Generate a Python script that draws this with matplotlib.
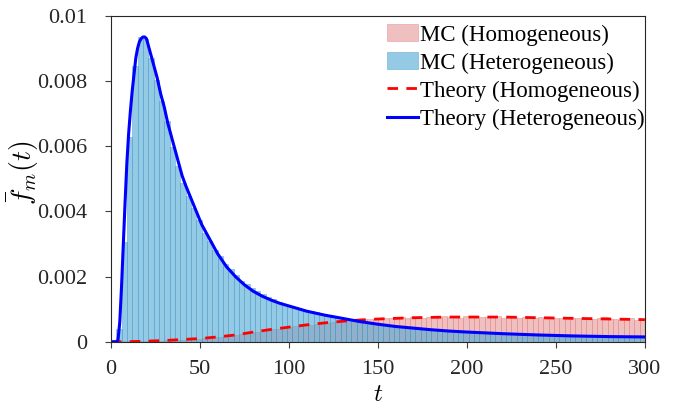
import matplotlib
matplotlib.use('Agg')
import matplotlib.pyplot as plt
import numpy as np

# histogram bins (width 3, 0..300)
bin_width = 3
bin_left = list(range(0, 300, 3))

# MC (Homogeneous) bin heights
mc_homog = [0.00001, 0.00001, 0.00001, 0.00002, 0.00002, 0.00002,
            0.00003, 0.00003, 0.00004, 0.00004, 0.00005,
            0.00006, 0.00006, 0.00007, 0.00008, 0.00009,
            0.00010, 0.00012, 0.00013, 0.00015, 0.00016,
            0.00018, 0.00020, 0.00022, 0.00024, 0.00026,
            0.00029, 0.00031, 0.00033, 0.00036, 0.00038,
            0.00040, 0.00043, 0.00045, 0.00047, 0.00049,
            0.00051, 0.00053, 0.00055, 0.00057, 0.00059,
            0.00061, 0.00062, 0.00064, 0.00065, 0.00067,
            0.00068, 0.00069, 0.00071, 0.00070, 0.00073,
            0.00072, 0.00074, 0.00073, 0.00076, 0.00074,
            0.00075, 0.00077, 0.00074, 0.00076, 0.00078,
            0.00075, 0.00079, 0.00076, 0.00077, 0.00074,
            0.00078, 0.00076, 0.00079, 0.00075, 0.00077,
            0.00076, 0.00078, 0.00074, 0.00077, 0.00075,
            0.00073, 0.00076, 0.00075, 0.00072, 0.00075,
            0.00074, 0.00071, 0.00074, 0.00073, 0.00070,
            0.00073, 0.00072, 0.00074, 0.00071, 0.00069,
            0.00072, 0.00075, 0.00070, 0.00071, 0.00068,
            0.00070, 0.00072, 0.00068, 0.00069]

# MC (Heterogeneous) bin heights
mc_heter = [0.0, 0.0004, 0.00305, 0.00627, 0.00847, 0.00935, 0.0093, 0.00872,
            0.00804, 0.00739, 0.00676, 0.00599, 0.00538, 0.00487, 0.00446,
            0.00411, 0.00374, 0.00335, 0.00310, 0.00283, 0.00262, 0.00238,
            0.00222, 0.00205, 0.00188, 0.00176, 0.00165, 0.00155, 0.00146,
            0.00136, 0.00130, 0.00122, 0.00117, 0.00110, 0.00106, 0.00101,
            0.00097, 0.00093, 0.00090, 0.00086, 0.00082, 0.00080, 0.00077,
            0.00073, 0.00070, 0.00067, 0.00065, 0.00062, 0.00060, 0.00057,
            0.00054, 0.00052, 0.00050, 0.00048, 0.00046, 0.00045, 0.00043,
            0.00042, 0.00040, 0.00039, 0.00037, 0.00036, 0.00035, 0.00034,
            0.00033, 0.00032, 0.00031, 0.00030, 0.00029, 0.00028, 0.00027,
            0.00027, 0.00026, 0.00025, 0.00025, 0.00024, 0.00023, 0.00023,
            0.00022, 0.00022, 0.00021, 0.00021, 0.00020, 0.00020, 0.00019,
            0.00019, 0.00018, 0.00018, 0.00018, 0.00017, 0.00017, 0.00017,
            0.00016, 0.00016, 0.00016, 0.00016, 0.00015, 0.00015, 0.00015,
            0.00015]

# Theory (Homogeneous)
t_homog = [0, 10, 20, 30, 40, 50, 60, 70, 80, 90, 100, 110, 120, 130, 140, 150,
           160, 170, 180, 190, 200, 210, 220, 230, 240, 250, 260, 270, 280, 290, 300]
f_homog = [0.0, 0.000005, 0.00002, 0.00004, 0.00007, 0.0001, 0.00015, 0.00021,
           0.0003, 0.00038, 0.00045, 0.00052, 0.00058, 0.00063, 0.00067, 0.0007,
           0.00072, 0.00074, 0.00075, 0.00076, 0.00076, 0.00076, 0.00076, 0.00075,
           0.00074, 0.00073, 0.00072, 0.00071, 0.0007, 0.00069, 0.00068]

# Theory (Heterogeneous)
t_heter = [0, 3, 4, 5, 6, 7, 8, 9, 10, 11, 12, 13, 14, 15, 16, 17, 18, 19, 20,
           21, 22, 24, 26, 28, 30, 32, 34, 36, 38, 40, 42, 45, 48, 51, 55, 60,
           65, 70, 75, 80, 85, 90, 95, 100, 110, 120, 130, 140, 150, 160, 170,
           180, 190, 200, 220, 240, 260, 280, 300]
f_heter = [0.0, 0.0, 0.00005, 0.0006, 0.0017, 0.003, 0.0043, 0.0055, 0.0064,
           0.0071, 0.0077, 0.0082, 0.0087, 0.009, 0.0092, 0.0093, 0.00935,
           0.00935, 0.0093, 0.0091, 0.0089, 0.0085, 0.0081, 0.0076, 0.0072,
           0.0067, 0.0063, 0.0059, 0.0055, 0.0051, 0.0048, 0.0044, 0.0040,
           0.0036, 0.0032, 0.0027, 0.0023, 0.0020, 0.00175, 0.00155, 0.0014,
           0.00128, 0.00118, 0.0011, 0.00094, 0.00082, 0.00072, 0.00062,
           0.00054, 0.00047, 0.00042, 0.00037, 0.00033, 0.0003, 0.00025,
           0.00021, 0.00018, 0.00016, 0.00015]

x_ticks = [0, 50, 100, 150, 200, 250, 300]
y_ticks = [0, 0.002, 0.004, 0.006, 0.008, 0.01]
y_tick_labels = ['0', '0.002', '0.004', '0.006', '0.008', '0.01']

plt.rcParams['font.family'] = ['Liberation Serif', 'DejaVu Serif']
plt.rcParams['mathtext.fontset'] = 'cm'

fig = plt.figure(figsize=(6.76, 4.05), dpi=100)
ax = fig.add_axes([0.164, 0.156, 0.790, 0.805])

b1 = ax.bar(bin_left, mc_homog, width=bin_width, align='edge',
            color=(0.90, 0.59, 0.59), edgecolor=(0.88, 0.50, 0.50), linewidth=0.5,
            alpha=0.6, label='MC (Homogeneous)')
b2 = ax.bar(bin_left, mc_heter, width=bin_width, align='edge',
            color=(0.31, 0.66, 0.83), edgecolor=(0.25, 0.60, 0.80), linewidth=0.5,
            alpha=0.6, label='MC (Heterogeneous)')
l1, = ax.plot(t_homog, f_homog, color='red', linestyle='--', dashes=(3.8, 3), lw=2,
              label='Theory (Homogeneous)')
l2, = ax.plot(t_heter, f_heter, color='blue', lw=2.2, label='Theory (Heterogeneous)')

ax.set_xlim(0, 300)
ax.set_ylim(0, 0.01)
ax.set_xticks(x_ticks)
ax.set_yticks(y_ticks)
ax.set_yticklabels(y_tick_labels)
ax.tick_params(direction='out', length=4, width=0.8, color='#404040',
               labelsize=16, labelcolor='#262626')
ax.tick_params(axis='x', pad=9)
ax.tick_params(axis='y', pad=13)
for s in ax.spines.values():
    s.set_color('#262626')
    s.set_linewidth(0.8)

ax.set_xlabel('$t$', fontsize=18)
ax.xaxis.set_label_coords(0.5, -0.128)
ax.set_ylabel(r'$\bar{f}_m(t)$', fontsize=20)
ax.yaxis.set_label_coords(-0.13, 0.52)

ax.legend([b1, b2, l1, l2],
          ['MC (Homogeneous)', 'MC (Heterogeneous)', 'Theory (Homogeneous)',
           'Theory (Heterogeneous)'],
          loc='upper right', frameon=False, fontsize=16.5, handlelength=1.36,
          handleheight=0.8, handletextpad=0.1, labelspacing=0.28,
          borderaxespad=0.0, borderpad=0.35, bbox_to_anchor=(1.015, 1.0))

fig.savefig('out.png', dpi=100)
